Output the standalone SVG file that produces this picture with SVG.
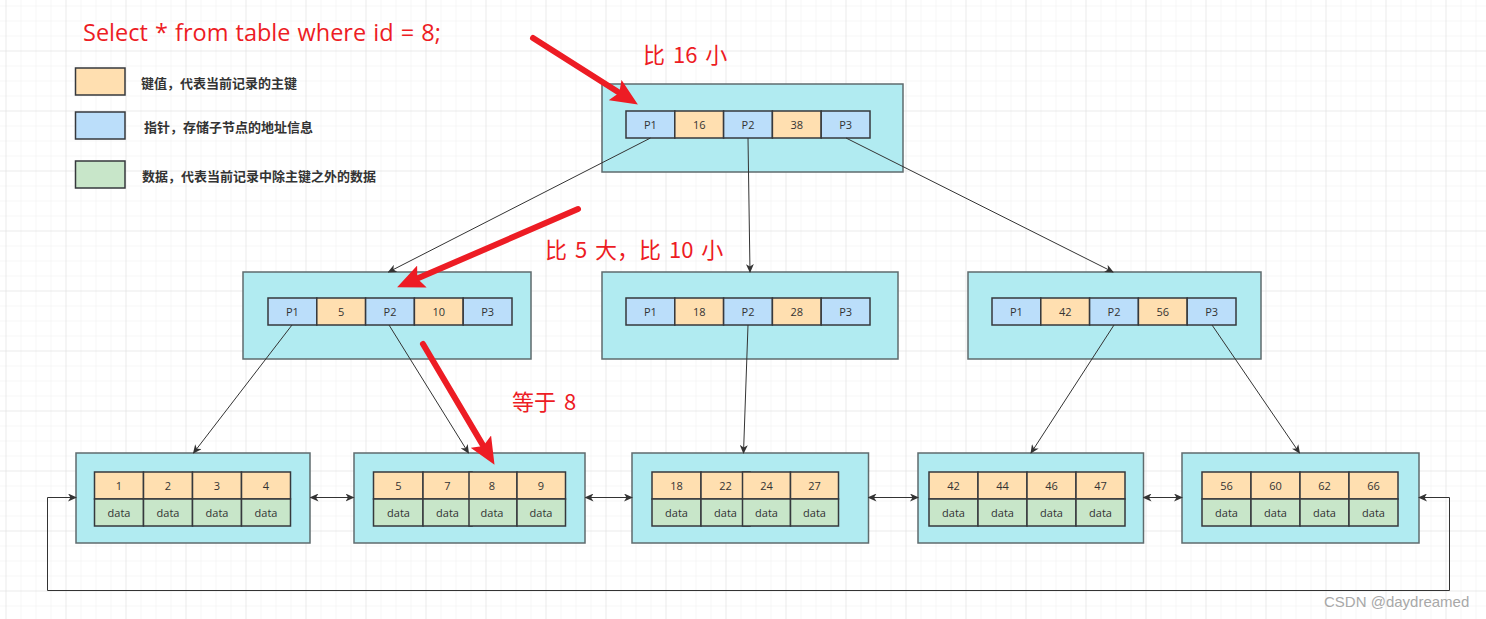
<svg xmlns="http://www.w3.org/2000/svg" width="1486" height="619" viewBox="0 0 1486 619">
<defs>
  <pattern id="minor" x="5.5" y="5.5" width="15" height="15" patternUnits="userSpaceOnUse">
    <path d="M0,0 H15 M0,0 V15" fill="none" stroke="#efefef" stroke-width="1"/>
  </pattern>
  <pattern id="major" x="5.5" y="-9.5" width="60" height="60" patternUnits="userSpaceOnUse">
    <path d="M0,0 H60 M0,0 V60" fill="none" stroke="#e2e2e2" stroke-width="1"/>
  </pattern>
  <marker id="ah" markerUnits="userSpaceOnUse" markerWidth="9" markerHeight="8" viewBox="0 0 9 8" refX="8" refY="4" orient="auto-start-reverse">
    <path d="M0,0 L9,4 L0,8 L2.5,4 z" fill="#333"/>
  </marker>
  <marker id="red" markerUnits="userSpaceOnUse" markerWidth="27" markerHeight="24" viewBox="0 -12 27 24" refX="5" refY="0" orient="auto">
    <path d="M0,-12 L27,0 L0,12 L5,0 z" fill="#ed1c24"/>
  </marker>
  <style>
    .outer { fill: #b1ebf1; stroke: #5f6b6d; stroke-width: 1.5; }
    .k { fill: #ffdfb0; stroke: #36393d; stroke-width: 1.5; }
    .p { fill: #bbdefa; stroke: #36393d; stroke-width: 1.5; }
    .d { fill: #c8e6c9; stroke: #36393d; stroke-width: 1.5; }
    .t { font-family: "Open Sans", "Noto Sans", sans-serif; font-size: 11px; fill: #333; text-anchor: middle; dominant-baseline: central; }
    .leg { font-family: "Noto Sans CJK SC", sans-serif; font-size: 13px; font-weight: bold; fill: #333; dominant-baseline: central; }
    .redt { font-family: "Noto Sans CJK SC", "Open Sans", sans-serif; fill: #ed1c24; font-size: 22px; word-spacing: 3px; }
    .conn { fill: none; stroke: #333; stroke-width: 1; }
    .rl { fill: none; stroke: #ed1c24; stroke-width: 6; stroke-linecap: round; }
  </style>
</defs>
<rect width="1486" height="619" fill="#ffffff"/>
<rect width="1486" height="619" fill="url(#minor)"/>
<rect width="1486" height="619" fill="url(#major)"/>

<!-- Legend -->
<g id="legend">
  <rect class="k" x="75.5" y="68" width="49.5" height="27"/>
  <text class="leg" x="141" y="82">键值，代表当前记录的主键</text>
  <rect class="p" x="75.5" y="112" width="49.5" height="27"/>
  <text class="leg" x="144" y="126">指针，存储子节点的地址信息</text>
  <rect class="d" x="75.5" y="161" width="49.5" height="27"/>
  <text class="leg" x="142" y="175">数据，代表当前记录中除主键之外的数据</text>
</g>

<g id="sql">
  <text x="83" y="41" style="font-family:'Open Sans','Noto Sans',sans-serif;font-size:23.5px;fill:#ed1c24;word-spacing:1px">Select * from table where id = 8;</text>
</g>

<!-- Root -->
<g id="root">
  <rect class="outer" x="602" y="84" width="301" height="88"/>
  <rect class="p" x="626" y="111" width="48.8" height="27"/>
  <rect class="k" x="674.8" y="111" width="48.8" height="27"/>
  <rect class="p" x="723.6" y="111" width="48.8" height="27"/>
  <rect class="k" x="772.4" y="111" width="48.8" height="27"/>
  <rect class="p" x="821.2" y="111" width="48.8" height="27"/>
  <text class="t" x="650.4" y="124.5">P1</text>
  <text class="t" x="699.2" y="124.5">16</text>
  <text class="t" x="748" y="124.5">P2</text>
  <text class="t" x="796.8" y="124.5">38</text>
  <text class="t" x="845.6" y="124.5">P3</text>
</g>

<!-- Level 2 -->
<g id="l2a">
  <rect class="outer" x="243" y="272" width="288" height="87"/>
  <rect class="p" x="268" y="298" width="48.8" height="27"/>
  <rect class="k" x="316.8" y="298" width="48.8" height="27"/>
  <rect class="p" x="365.6" y="298" width="48.8" height="27"/>
  <rect class="k" x="414.4" y="298" width="48.8" height="27"/>
  <rect class="p" x="463.2" y="298" width="48.8" height="27"/>
  <text class="t" x="292.4" y="311.5">P1</text>
  <text class="t" x="341.2" y="311.5">5</text>
  <text class="t" x="390" y="311.5">P2</text>
  <text class="t" x="438.8" y="311.5">10</text>
  <text class="t" x="487.6" y="311.5">P3</text>
</g>
<g id="l2b">
  <rect class="outer" x="602" y="272" width="296" height="87"/>
  <rect class="p" x="626" y="298" width="48.8" height="27"/>
  <rect class="k" x="674.8" y="298" width="48.8" height="27"/>
  <rect class="p" x="723.6" y="298" width="48.8" height="27"/>
  <rect class="k" x="772.4" y="298" width="48.8" height="27"/>
  <rect class="p" x="821.2" y="298" width="48.8" height="27"/>
  <text class="t" x="650.4" y="311.5">P1</text>
  <text class="t" x="699.2" y="311.5">18</text>
  <text class="t" x="748" y="311.5">P2</text>
  <text class="t" x="796.8" y="311.5">28</text>
  <text class="t" x="845.6" y="311.5">P3</text>
</g>
<g id="l2c">
  <rect class="outer" x="968" y="272" width="293" height="87"/>
  <rect class="p" x="992" y="298" width="48.8" height="27"/>
  <rect class="k" x="1040.8" y="298" width="48.8" height="27"/>
  <rect class="p" x="1089.6" y="298" width="48.8" height="27"/>
  <rect class="k" x="1138.4" y="298" width="48.8" height="27"/>
  <rect class="p" x="1187.2" y="298" width="48.8" height="27"/>
  <text class="t" x="1016.4" y="311.5">P1</text>
  <text class="t" x="1065.2" y="311.5">42</text>
  <text class="t" x="1114" y="311.5">P2</text>
  <text class="t" x="1162.8" y="311.5">56</text>
  <text class="t" x="1211.6" y="311.5">P3</text>
</g>

<!-- Leaves -->
<g id="leaf1">
  <rect class="outer" x="76" y="453" width="234" height="90"/>
  <rect class="k" x="94.5" y="472" width="49" height="27"/><rect class="d" x="94.5" y="499" width="49" height="27"/>
  <rect class="k" x="143.5" y="472" width="49" height="27"/><rect class="d" x="143.5" y="499" width="49" height="27"/>
  <rect class="k" x="192.5" y="472" width="49" height="27"/><rect class="d" x="192.5" y="499" width="49" height="27"/>
  <rect class="k" x="241.5" y="472" width="49" height="27"/><rect class="d" x="241.5" y="499" width="49" height="27"/>
  <text class="t" x="119" y="485.5">1</text><text class="t" x="119" y="512.5">data</text>
  <text class="t" x="168" y="485.5">2</text><text class="t" x="168" y="512.5">data</text>
  <text class="t" x="217" y="485.5">3</text><text class="t" x="217" y="512.5">data</text>
  <text class="t" x="266" y="485.5">4</text><text class="t" x="266" y="512.5">data</text>
</g>
<g id="leaf2">
  <rect class="outer" x="354" y="453" width="231" height="90"/>
  <rect class="k" x="373.5" y="472" width="49.5" height="27"/><rect class="d" x="373.5" y="499" width="49.5" height="27"/>
  <rect class="k" x="423" y="472" width="49" height="27"/><rect class="d" x="423" y="499" width="49" height="27"/>
  <rect class="k" x="469" y="472" width="48" height="27"/><rect class="d" x="469" y="499" width="48" height="27"/>
  <rect class="k" x="517" y="472" width="48.5" height="27"/><rect class="d" x="517" y="499" width="48.5" height="27"/>
  <text class="t" x="398.5" y="485.5">5</text><text class="t" x="398.5" y="512.5">data</text>
  <text class="t" x="447.5" y="485.5">7</text><text class="t" x="447.5" y="512.5">data</text>
  <text class="t" x="492" y="485.5">8</text><text class="t" x="492" y="512.5">data</text>
  <text class="t" x="541" y="485.5">9</text><text class="t" x="541" y="512.5">data</text>
</g>
<g id="leaf3">
  <rect class="outer" x="632" y="453" width="236.5" height="90"/>
  <rect class="k" x="652" y="472" width="49" height="27"/><rect class="d" x="652" y="499" width="49" height="27"/>
  <rect class="k" x="701" y="472" width="49" height="27"/><rect class="d" x="701" y="499" width="49" height="27"/>
  <rect class="k" x="742.5" y="472" width="48" height="27"/><rect class="d" x="742.5" y="499" width="48" height="27"/>
  <rect class="k" x="790.5" y="472" width="48" height="27"/><rect class="d" x="790.5" y="499" width="48" height="27"/>
  <text class="t" x="676.5" y="485.5">18</text><text class="t" x="676.5" y="512.5">data</text>
  <text class="t" x="725.5" y="485.5">22</text><text class="t" x="725.5" y="512.5">data</text>
  <text class="t" x="766.5" y="485.5">24</text><text class="t" x="766.5" y="512.5">data</text>
  <text class="t" x="814.5" y="485.5">27</text><text class="t" x="814.5" y="512.5">data</text>
</g>
<g id="leaf4">
  <rect class="outer" x="918" y="453" width="225.5" height="90"/>
  <rect class="k" x="929" y="472" width="49" height="27"/><rect class="d" x="929" y="499" width="49" height="27"/>
  <rect class="k" x="978" y="472" width="49" height="27"/><rect class="d" x="978" y="499" width="49" height="27"/>
  <rect class="k" x="1027" y="472" width="49" height="27"/><rect class="d" x="1027" y="499" width="49" height="27"/>
  <rect class="k" x="1076" y="472" width="49" height="27"/><rect class="d" x="1076" y="499" width="49" height="27"/>
  <text class="t" x="953.5" y="485.5">42</text><text class="t" x="953.5" y="512.5">data</text>
  <text class="t" x="1002.5" y="485.5">44</text><text class="t" x="1002.5" y="512.5">data</text>
  <text class="t" x="1051.5" y="485.5">46</text><text class="t" x="1051.5" y="512.5">data</text>
  <text class="t" x="1100.5" y="485.5">47</text><text class="t" x="1100.5" y="512.5">data</text>
</g>
<g id="leaf5">
  <rect class="outer" x="1182" y="453" width="237" height="90"/>
  <rect class="k" x="1202" y="472" width="49" height="27"/><rect class="d" x="1202" y="499" width="49" height="27"/>
  <rect class="k" x="1251" y="472" width="49" height="27"/><rect class="d" x="1251" y="499" width="49" height="27"/>
  <rect class="k" x="1300" y="472" width="49" height="27"/><rect class="d" x="1300" y="499" width="49" height="27"/>
  <rect class="k" x="1349" y="472" width="49" height="27"/><rect class="d" x="1349" y="499" width="49" height="27"/>
  <text class="t" x="1226.5" y="485.5">56</text><text class="t" x="1226.5" y="512.5">data</text>
  <text class="t" x="1275.5" y="485.5">60</text><text class="t" x="1275.5" y="512.5">data</text>
  <text class="t" x="1324.5" y="485.5">62</text><text class="t" x="1324.5" y="512.5">data</text>
  <text class="t" x="1373.5" y="485.5">66</text><text class="t" x="1373.5" y="512.5">data</text>
</g>

<!-- Connectors -->
<g id="connectors">
  <path class="conn" marker-end="url(#ah)" d="M650.5,138 L388.5,272"/>
  <path class="conn" marker-end="url(#ah)" d="M748,138 L750,272"/>
  <path class="conn" marker-end="url(#ah)" d="M846,138 L1113,272"/>
  <path class="conn" marker-end="url(#ah)" d="M292,325 L193.5,453"/>
  <path class="conn" marker-end="url(#ah)" d="M389,325 L468.5,453"/>
  <path class="conn" marker-end="url(#ah)" d="M748,325 L743.5,453"/>
  <path class="conn" marker-end="url(#ah)" d="M1114,325 L1031,453"/>
  <path class="conn" marker-end="url(#ah)" d="M1212,325 L1299.5,453"/>
  <path class="conn" marker-start="url(#ah)" marker-end="url(#ah)" d="M310.5,497.5 L353.5,497.5"/>
  <path class="conn" marker-start="url(#ah)" marker-end="url(#ah)" d="M585.5,497.5 L632,497.5"/>
  <path class="conn" marker-start="url(#ah)" marker-end="url(#ah)" d="M868.5,497.5 L918,497.5"/>
  <path class="conn" marker-start="url(#ah)" marker-end="url(#ah)" d="M1143.5,497.5 L1182,497.5"/>
  <path class="conn" marker-start="url(#ah)" marker-end="url(#ah)" d="M1419,497.5 L1449.5,497.5 L1449.5,590.5 L47.5,590.5 L47.5,497.5 L76,497.5"/>
</g>

<!-- Red search path -->
<g id="search">
  <path class="rl" marker-end="url(#red)" d="M533,38 L619.3,92.7"/>
  <path class="rl" marker-end="url(#red)" d="M578,209 L417.3,278.6"/>
  <path class="rl" marker-end="url(#red)" d="M423,344 L483.3,445.9"/>
  <text class="redt" x="643" y="63">比 16 小</text>
  <text class="redt" x="545" y="258">比 5 大，比 10 小</text>
  <text class="redt" x="512" y="410">等于 8</text>
</g>

<text x="1324" y="607" style="font-family:'Liberation Sans','Noto Sans',sans-serif;font-size:15px;fill:#a8a8a8">CSDN @daydreamed</text>
</svg>
